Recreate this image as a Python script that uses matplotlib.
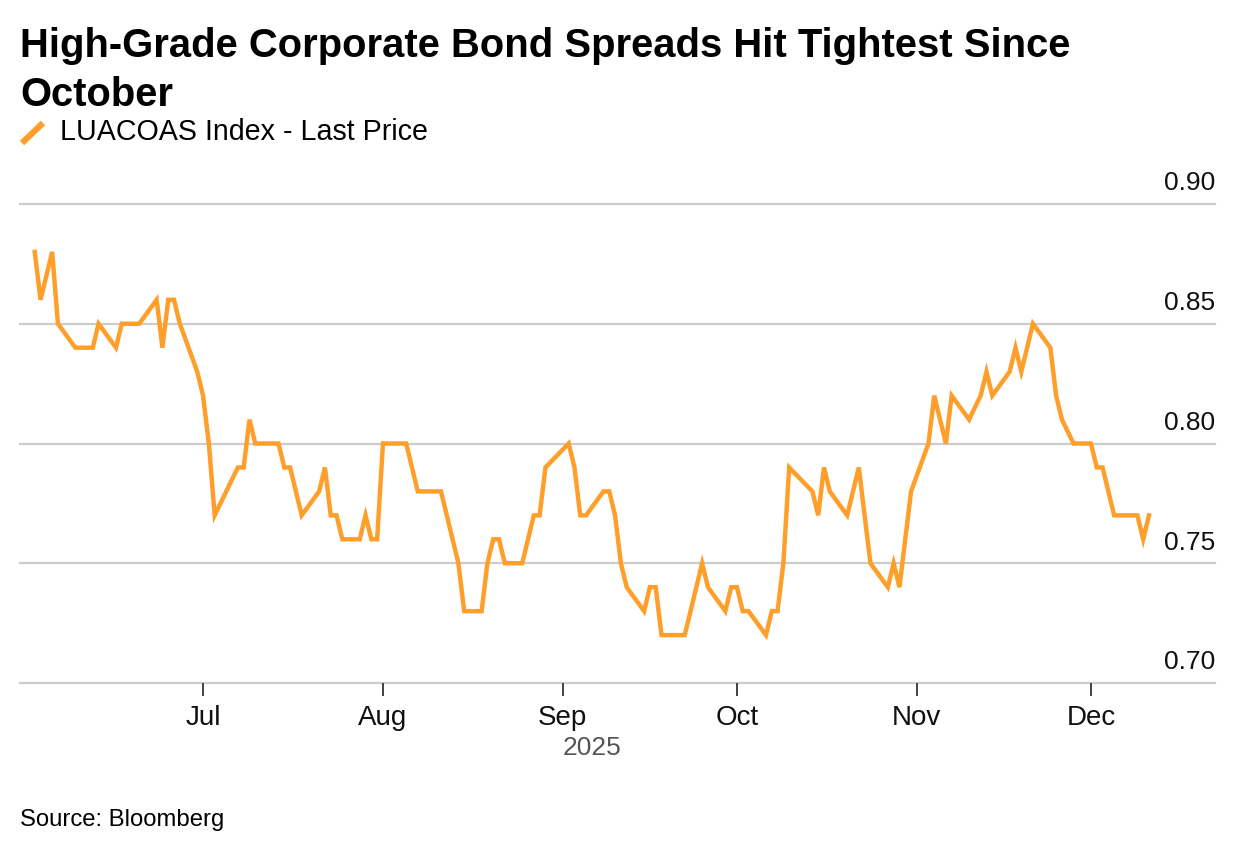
import numpy as np
import pandas as pd
import matplotlib
matplotlib.use('Agg')
import matplotlib.pyplot as plt
import matplotlib.dates as md
from matplotlib.lines import Line2D

plt.rcParams['font.family'] = ['Liberation Sans', 'DejaVu Sans']

# LUACOAS Index - Last Price (turning points only)
dates = ['2025-06-02', '2025-06-03', '2025-06-05', '2025-06-06', '2025-06-09',
         '2025-06-12', '2025-06-13', '2025-06-16', '2025-06-17', '2025-06-20',
         '2025-06-23', '2025-06-24', '2025-06-25', '2025-06-26', '2025-06-27',
         '2025-06-30', '2025-07-01', '2025-07-02', '2025-07-03', '2025-07-07',
         '2025-07-08', '2025-07-09', '2025-07-10', '2025-07-14', '2025-07-15',
         '2025-07-16', '2025-07-18', '2025-07-21', '2025-07-22', '2025-07-23',
         '2025-07-24', '2025-07-25', '2025-07-28', '2025-07-29', '2025-07-30',
         '2025-07-31', '2025-08-01', '2025-08-05', '2025-08-07', '2025-08-11',
         '2025-08-14', '2025-08-15', '2025-08-18', '2025-08-19', '2025-08-20',
         '2025-08-21', '2025-08-22', '2025-08-25', '2025-08-27', '2025-08-28',
         '2025-08-29', '2025-09-02', '2025-09-03', '2025-09-04', '2025-09-05',
         '2025-09-08', '2025-09-09', '2025-09-10', '2025-09-11', '2025-09-12',
         '2025-09-15', '2025-09-16', '2025-09-17', '2025-09-18', '2025-09-22',
         '2025-09-25', '2025-09-26', '2025-09-29', '2025-09-30', '2025-10-01',
         '2025-10-02', '2025-10-03', '2025-10-06', '2025-10-07', '2025-10-08',
         '2025-10-09', '2025-10-10', '2025-10-14', '2025-10-15', '2025-10-16',
         '2025-10-17', '2025-10-20', '2025-10-22', '2025-10-24', '2025-10-27',
         '2025-10-28', '2025-10-29', '2025-10-31', '2025-11-03', '2025-11-04',
         '2025-11-06', '2025-11-07', '2025-11-10', '2025-11-12', '2025-11-13',
         '2025-11-14', '2025-11-17', '2025-11-18', '2025-11-19', '2025-11-21',
         '2025-11-24', '2025-11-25', '2025-11-26', '2025-11-28', '2025-12-01',
         '2025-12-02', '2025-12-03', '2025-12-05', '2025-12-09', '2025-12-10',
         '2025-12-11']
oas = [0.88, 0.86, 0.88, 0.85, 0.84,
       0.84, 0.85, 0.84, 0.85, 0.85,
       0.86, 0.84, 0.86, 0.86, 0.85,
       0.83, 0.82, 0.80, 0.77, 0.79,
       0.79, 0.81, 0.80, 0.80, 0.79,
       0.79, 0.77, 0.78, 0.79, 0.77,
       0.77, 0.76, 0.76, 0.77, 0.76,
       0.76, 0.80, 0.80, 0.78, 0.78,
       0.75, 0.73, 0.73, 0.75, 0.76,
       0.76, 0.75, 0.75, 0.77, 0.77,
       0.79, 0.80, 0.79, 0.77, 0.77,
       0.78, 0.78, 0.77, 0.75, 0.74,
       0.73, 0.74, 0.74, 0.72, 0.72,
       0.75, 0.74, 0.73, 0.74, 0.74,
       0.73, 0.73, 0.72, 0.73, 0.73,
       0.75, 0.79, 0.78, 0.77, 0.79,
       0.78, 0.77, 0.79, 0.75, 0.74,
       0.75, 0.74, 0.78, 0.80, 0.82,
       0.80, 0.82, 0.81, 0.82, 0.83,
       0.82, 0.83, 0.84, 0.83, 0.85,
       0.84, 0.82, 0.81, 0.80, 0.80,
       0.79, 0.79, 0.77, 0.77, 0.76,
       0.77]
yticks = [0.70, 0.75, 0.80, 0.85, 0.90]
title = ['High-Grade Corporate Bond Spreads Hit Tightest Since', 'October']
label = 'LUACOAS Index - Last Price'

tt = pd.to_datetime(dates)
W, H = 1236, 854
orange = '#ff9f2b'
grid = '#cccccc'

fig = plt.figure(figsize=(W/100, H/100), dpi=100)
ax = fig.add_axes([20/W, 1-684/H, (1215-20)/W, (684-205)/H])

ax.plot(tt, oas, color=orange, lw=3.2, solid_joinstyle='miter', zorder=3)

ax.set_xlim(pd.Timestamp('2025-05-30 11:00'), pd.Timestamp('2025-12-22 09:00'))
ax.set_ylim(0.70, 0.90)

for s in ax.spines.values():
    s.set_visible(False)
for v in yticks:
    ax.axhline(v, color=grid, lw=1.6, clip_on=False, zorder=1)
    ax.annotate('%.2f' % v, xy=(1.0, v), xycoords=('axes fraction', 'data'),
                xytext=(0, 15.5), textcoords='offset points', ha='right',
                va='center', fontsize=19, color='#111111')
ax.set_yticks([])

ax.xaxis.set_major_locator(md.MonthLocator(bymonth=range(7, 13)))
ax.xaxis.set_major_formatter(md.DateFormatter('%b'))
ax.tick_params(axis='x', length=9, width=1.3, color='#333333', pad=6,
               labelsize=20, labelcolor='#111111')

fig.text(592/W, 1-748/H, '2025', ha='center', va='center', fontsize=19,
         color='#555555')

# title and legend
fig.text(20/W, 1-57/H, title[0], ha='left', va='baseline', fontsize=28.8,
         fontweight='bold', color='black')
fig.text(20/W, 1-106/H, title[1], ha='left', va='baseline', fontsize=28.8,
         fontweight='bold', color='black')
fig.add_artist(Line2D([22/W, 43/W], [1-144/H, 1-124/H], color=orange, lw=4.5,
                      solid_capstyle='butt', transform=fig.transFigure))
fig.text(60/W, 1-140.5/H, label, ha='left', va='baseline', fontsize=20.6,
         color='black')

fig.text(20/W, 1-820/H, 'Source: Bloomberg', ha='left', va='center',
         fontsize=17.2, color='black')

plt.savefig('out.png', dpi=100)
